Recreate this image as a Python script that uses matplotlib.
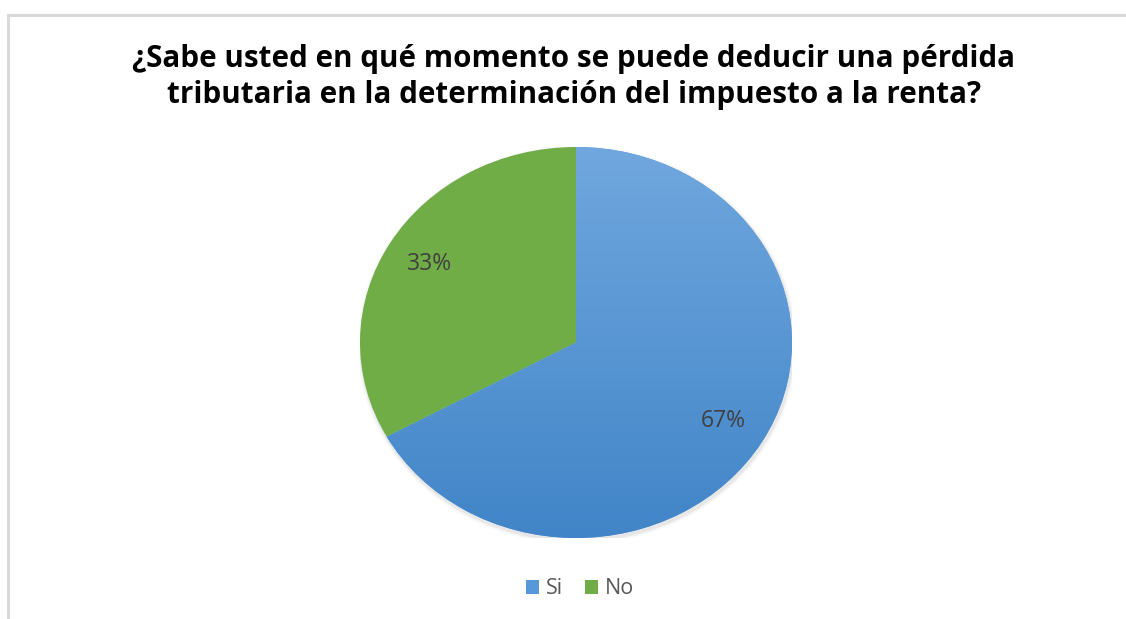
###########################################################################################################################
# Pie chart: momento de deducir una pérdida tributaria
import numpy as np
import matplotlib.pyplot as plt
from matplotlib.patches import Rectangle, Ellipse
from matplotlib.colors import LinearSegmentedColormap

###########################################################################################################################
# Data
labels = ['Si', 'No']
values = [67, 33]
title = '¿Sabe usted en qué momento se puede deducir una pérdida\ntributaria en la determinación del impuesto a la renta?'

###########################################################################################################################
# Style
plt.rcParams['font.family'] = ['Open Sans', 'DejaVu Sans']
blue_top, blue_bottom = '#70a7de', '#4185c8'
green = '#70ad47'
colors = ['#5698d8', green]

W, H = 1126, 619
fig = plt.figure(figsize=(W / 100, H / 100), dpi=100)
fig.patch.set_facecolor('white')

## light chart border (top and left only visible)
fig.patches.append(Rectangle((8 / W, -0.1), 1.2, 1 - 15 / H + 0.1, transform=fig.transFigure,
                             fill=False, edgecolor='#d9d9d9', linewidth=2.2, zorder=0))

## pie axes, ellipse fills 360..792 x 147..538 px
ax = fig.add_axes([360 / W, 1 - 538 / H, 432 / W, 391 / H])

# soft shadow around the pie
for i, a in enumerate([0.10, 0.06, 0.03]):
    ax.add_patch(Ellipse((0.005, -0.012), 2 + 0.012 * (i + 1), 2 + 0.014 * (i + 1),
                         facecolor='#808080', edgecolor='none', alpha=a, zorder=0))

wedges, texts, autotexts = ax.pie(values, colors=colors, startangle=90, counterclock=False,
                                  autopct='%1.0f%%', pctdistance=0.79,
                                  wedgeprops=dict(linewidth=0),
                                  textprops=dict(color='#404040', fontsize=16.5))
for w in wedges:
    w.set_zorder(1)

# vertical gradient on the blue wedge
cmap = LinearSegmentedColormap.from_list('blue_grad', [blue_bottom, blue_top])
grad = np.linspace(0, 1, 256).reshape(-1, 1)
img = ax.imshow(grad, cmap=cmap, origin='lower', extent=(-1, 1, -1, 1), aspect='auto', zorder=2)
img.set_clip_path(wedges[0])
for t in autotexts:
    t.set_zorder(5)

ax.set_aspect('auto')
ax.set_xlim(-1, 1)
ax.set_ylim(-1, 1)
ax.axis('off')

## title
fig.text(574 / W, 1 - 77 / H, title, ha='center', va='center', fontsize=21.3, fontweight='bold',
         color='#000000', linespacing=1.3)

## legend
handles = [Rectangle((0, 0), 1, 1, facecolor=c, edgecolor='none') for c in colors]
fig.legend(handles, labels, loc='center', bbox_to_anchor=(580 / W, 1 - 589 / H), ncol=2,
           frameon=False, fontsize=15.5, handlelength=0.6, handleheight=0.6, handletextpad=0.35,
           columnspacing=1.0, labelcolor='#595959')

plt.savefig('out.png', dpi=100, facecolor='white')
